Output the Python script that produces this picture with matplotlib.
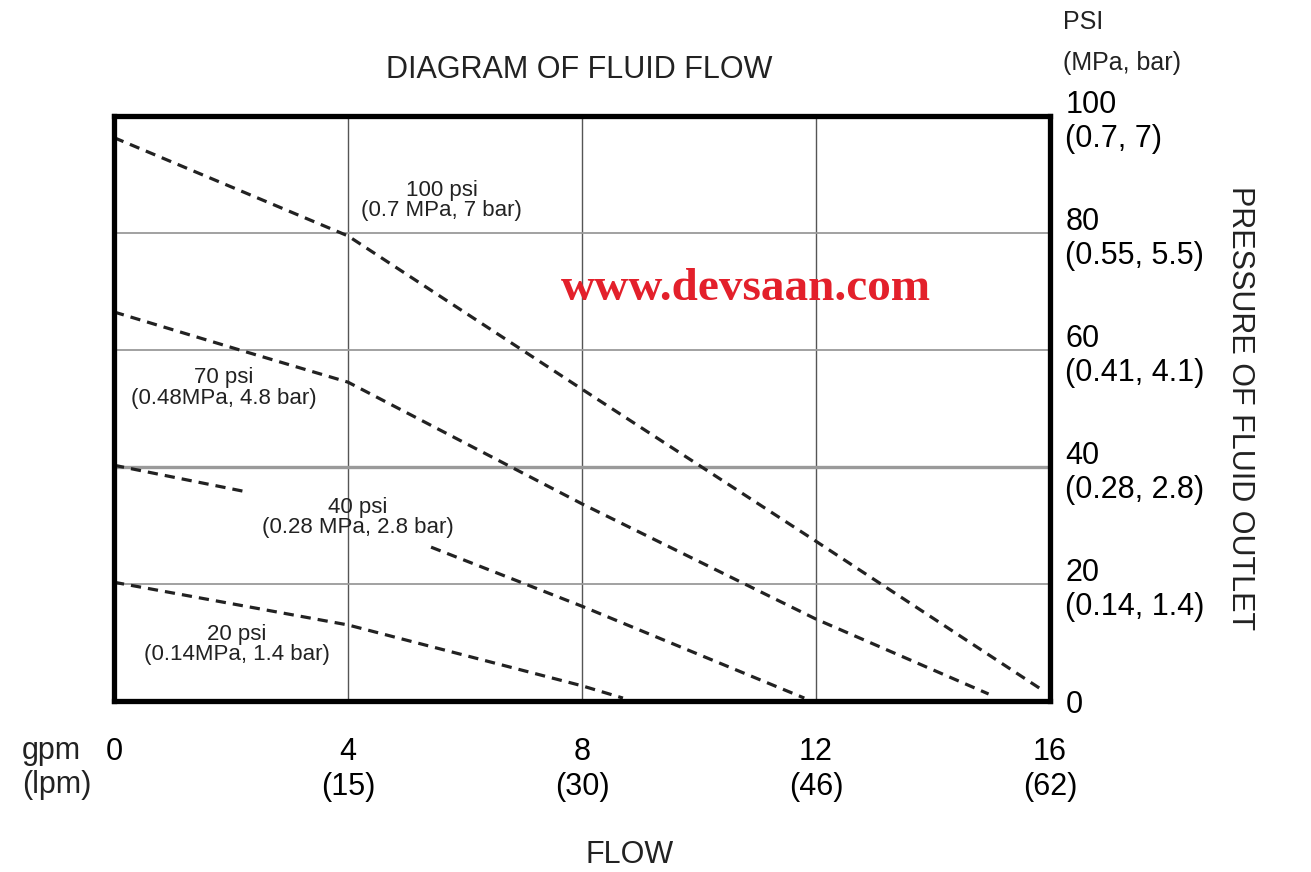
import numpy as np
import matplotlib.pyplot as plt

plt.rcParams['font.family'] = ['Liberation Sans', 'DejaVu Sans']

# flow (gpm) / outlet pressure (psi)
flow_100 = [0, 4, 8, 12, 15.85]
psi_100 = [96.3, 79.5, 53.3, 27.3, 2.0]
flow_70 = [0, 2.25, 4, 8, 12, 14.95]
psi_70 = [66.5, 59.7, 54.5, 33.7, 14.0, 1.2]
flow_40 = [0, 2.29, np.nan, 5.42, 8, 11.8]      # gap where the label sits
psi_40 = [40.3, 35.7, np.nan, 26.3, 16.2, 0.5]
flow_20 = [0, 4, 8, 8.7]
psi_20 = [20.3, 13.0, 2.6, 0.5]

curve_labels = ['100 psi\n(0.7 MPa, 7 bar)', '70 psi\n(0.48MPa, 4.8 bar)',
                '40 psi\n(0.28 MPa, 2.8 bar)', '20 psi\n(0.14MPa, 1.4 bar)']
label_x = [5.6, 1.88, 4.17, 2.1]
label_y = [85.6, 53.5, 31.3, 9.6]

x_ticks = [0, 4, 8, 12, 16]
x_ticklabels = ['0', '4\n(15)', '8\n(30)', '12\n(46)', '16\n(62)']
y_ticks = [0, 20, 40, 60, 80, 100]
y_ticklabels = ['0', '20\n(0.14, 1.4)', '40\n(0.28, 2.8)', '60\n(0.41, 4.1)',
                '80\n(0.55, 5.5)', '100\n(0.7, 7)']

fig = plt.figure(figsize=(13.11, 8.72), dpi=100)
ax = fig.add_axes([114 / 1311, 1 - 701 / 872, 936 / 1311, 585 / 872])

ax.set_xlim(0, 16)
ax.set_ylim(0, 100)

# grid: darker verticals, lighter horizontals
ax.set_xticks(x_ticks)
ax.set_xticklabels(x_ticklabels, fontsize=22)
ax.set_yticks(y_ticks)
ax.set_yticklabels(y_ticklabels, fontsize=22, ha='left')
ax.yaxis.tick_right()
ax.tick_params(axis='x', length=0, pad=26)
ax.tick_params(axis='y', length=0, pad=11)
ax.grid(axis='x', color='#555555', lw=1.0)
ax.grid(axis='y', color='#9a9a9a', lw=1.3)
for gl, v in zip(ax.get_ygridlines(), y_ticks):
    if v == 40:
        gl.set_linewidth(2.4)
ax.set_axisbelow(True)

for s in ax.spines.values():
    s.set_linewidth(3.8)
    s.set_color('black')

for fx, py in [(flow_100, psi_100), (flow_70, psi_70), (flow_40, psi_40), (flow_20, psi_20)]:
    ax.plot(fx, py, color='#222222', lw=2.3, dashes=(3.2, 2.2), clip_on=False)

for txt, lx, ly in zip(curve_labels, label_x, label_y):
    ax.text(lx, ly, txt, ha='center', va='center', fontsize=16,
            linespacing=0.95, color='#222222')

# watermark
ax.text(0.675, 0.705, 'www.devsaan.com', transform=ax.transAxes, ha='center',
        va='center', fontsize=34, fontweight='bold', family='Liberation Serif',
        color='#e3202b')

fig.text(579 / 1311, 1 - 70 / 872, 'DIAGRAM OF FLUID FLOW', ha='center',
         va='center', fontsize=22, color='#222222')
fig.text(630 / 1311, 1 - 855 / 872, 'FLOW', ha='center', va='center',
         fontsize=22, color='#222222')
fig.text(22 / 1311, 1 - 768 / 872, 'gpm\n(lpm)', ha='left', va='center',
         fontsize=22, color='#222222')
fig.text(1063 / 1311, 1 - 22 / 872, 'PSI', ha='left', va='center',
         fontsize=18, color='#222222')
fig.text(1063 / 1311, 1 - 63 / 872, '(MPa, bar)', ha='left', va='center',
         fontsize=18, color='#222222')
fig.text(1240 / 1311, 1 - 408 / 872, 'PRESSURE OF FLUID OUTLET', ha='center',
         va='center', rotation=270, fontsize=22, color='#222222')

fig.savefig('out.png', dpi=100)
